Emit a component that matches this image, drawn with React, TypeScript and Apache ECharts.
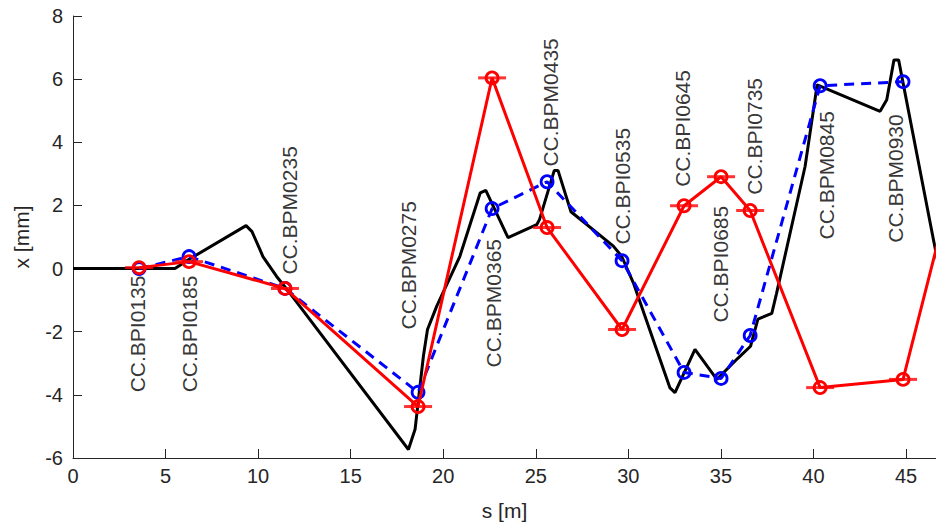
import React, { useEffect, useRef } from "react";
import * as echarts from "echarts";

// Trajectory (black line): s [m], x [mm]
const trajS = [0, 5.51, 6.23, 9.35, 9.67, 10.1, 10.26, 11.0, 11.56, 18.12, 18.48, 18.93, 19.15, 19.65, 20.9, 22.0, 22.3, 23.5, 25.05, 25.2, 26.0, 26.2, 26.9, 29.19, 29.64, 30.27, 32.25, 32.52, 33.6, 34.78, 35.9, 36.6, 37.0, 37.75, 38.0, 39.55, 40.2, 43.6, 43.96, 44.35, 44.6, 46.48, 47.2];
const trajX = [0, 0, 0.28, 1.36, 1.17, 0.6, 0.38, -0.25, -0.66, -5.73, -5.09, -2.77, -1.93, -1.19, 0.39, 2.4, 2.48, 0.98, 1.39, 1.55, 3.11, 3.11, 1.8, 0.71, 0.39, -0.45, -3.78, -3.93, -2.56, -3.51, -2.85, -2.46, -1.6, -1.42, -0.8, 3.24, 5.82, 4.98, 5.35, 6.61, 6.61, 0.92, -1.2];

// BPM positions and readings
const bpmNames = ["CC.BPI0135", "CC.BPI0185", "CC.BPM0235", "CC.BPM0275", "CC.BPM0365", "CC.BPM0435", "CC.BPI0535", "CC.BPI0645", "CC.BPI0685", "CC.BPI0735", "CC.BPM0845", "CC.BPM0930"];
const bpmS = [3.57, 6.27, 11.45, 18.64, 22.64, 25.61, 29.66, 33.01, 35.01, 36.58, 40.36, 44.84];
const blueX = [0, 0.38, -0.63, -3.92, 1.9, 2.75, 0.25, -3.29, -3.48, -2.12, 5.79, 5.92];
const redX = [0.03, 0.22, -0.63, -4.37, 6.04, 1.3, -1.93, 1.99, 2.91, 1.84, -3.77, -3.51];
// next red reading, beyond the visible range
const redExtraS = [48.4];
const redExtraX = [4.71];

// Label anchor positions (text start), in data units
const labelS = [3.51, 6.32, 11.72, 18.1, 22.69, 25.77, 29.66, 32.95, 35.0, 36.84, 40.73, 44.41];
const labelX = [-3.92, -3.92, -0.19, -1.93, -3.13, 3.23, 0.76, 2.59, -1.71, 2.34, 0.92, 0.82];

const xTicks = [0, 5, 10, 15, 20, 25, 30, 35, 40, 45];

const FONT = "'Liberation Sans', Arial, Helvetica, sans-serif";

export default function App() {
  const ref = useRef<HTMLDivElement>(null);
  useEffect(() => {
    if (!ref.current) return;
    const chart = echarts.init(ref.current, undefined, { renderer: "svg" });
    const traj = trajS.map((s, i) => [s, trajX[i]]);
    const blue = bpmS.map((s, i) => [s, blueX[i]]);
    const red = bpmS.map((s, i) => [s, redX[i]]).concat(redExtraS.map((s, i) => [s, redExtraX[i]]));
    const labels = bpmNames.map((n, i) => [labelS[i], labelX[i], n]);
    chart.setOption({
      animation: false,
      backgroundColor: "#ffffff",
      grid: { left: 73, right: 0, top: 16, bottom: 71, containLabel: false },
      xAxis: {
        type: "value",
        min: 0,
        max: 46.62,
        interval: 5,
        name: "s [m]",
        nameLocation: "middle",
        nameGap: 42,
        nameTextStyle: { fontFamily: FONT, fontSize: 21, color: "#262626" },
        axisLine: { show: true, onZero: false, lineStyle: { color: "#262626", width: 1 } },
        axisTick: { show: true, inside: true, length: 9, lineStyle: { color: "#262626" } },
        axisLabel: {
          fontFamily: FONT,
          fontSize: 20,
          color: "#262626",
          margin: 8,
          showMaxLabel: false,
          formatter: (v: number) => (xTicks.indexOf(v) >= 0 ? String(v) : ""),
        },
        splitLine: { show: false },
      },
      yAxis: {
        type: "value",
        min: -6,
        max: 8,
        interval: 2,
        name: "x [mm]",
        nameLocation: "middle",
        nameGap: 41,
        nameTextStyle: { fontFamily: FONT, fontSize: 21, color: "#262626" },
        axisLine: { show: true, onZero: false, lineStyle: { color: "#262626", width: 1 } },
        axisTick: { show: true, inside: true, length: 9, lineStyle: { color: "#262626" } },
        axisLabel: { fontFamily: FONT, fontSize: 20, color: "#262626", margin: 10 },
        splitLine: { show: false },
      },
      series: [
        {
          type: "line",
          data: traj,
          showSymbol: false,
          symbol: "none",
          lineStyle: { color: "#000000", width: 3 },
          z: 2,
        },
        {
          type: "line",
          data: blue,
          symbol: "circle",
          symbolSize: 12,
          showAllSymbol: true,
          itemStyle: { color: "rgba(0,0,0,0)", borderColor: "#0000ff", borderWidth: 2.8 },
          lineStyle: { color: "#0000ff", width: 3, type: [10, 7] },
          z: 3,
        },
        {
          type: "line",
          data: red,
          symbol: "circle",
          symbolSize: 12,
          showAllSymbol: true,
          itemStyle: { color: "rgba(0,0,0,0)", borderColor: "#ff0000", borderWidth: 2.8 },
          lineStyle: { color: "#ff0000", width: 3 },
          z: 4,
        },
        {
          type: "scatter",
          data: red,
          symbol: "rect",
          symbolSize: [28, 3],
          itemStyle: { color: "#ff0000" },
          z: 5,
        },
        {
          type: "scatter",
          data: labels,
          symbolSize: 0,
          silent: true,
          z: 6,
          label: {
            show: true,
            position: "inside",
            rotate: 90,
            align: "left",
            verticalAlign: "middle",
            formatter: (p: any) => p.data[2],
            fontFamily: FONT,
            fontSize: 21,
            color: "#000000",
          },
        },
      ],
    });
    return () => chart.dispose();
  }, []);
  return (
    <div
      ref={ref}
      style={{ position: "fixed", left: 0, top: 0, width: 936, height: 529, background: "#fff" }}
    />
  );
}
